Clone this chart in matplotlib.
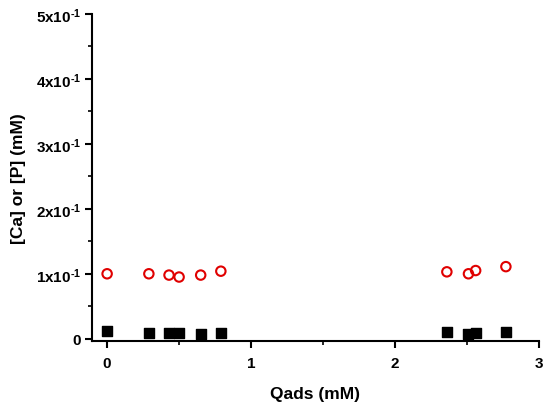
import matplotlib
matplotlib.use('Agg')
import matplotlib.pyplot as plt
from matplotlib.ticker import MultipleLocator, FixedLocator

plt.rcParams['font.family'] = ['Liberation Sans', 'DejaVu Sans']
plt.rcParams['font.weight'] = 'bold'
plt.rcParams['mathtext.fontset'] = 'custom'
plt.rcParams['mathtext.rm'] = 'Liberation Sans:bold'
plt.rcParams['mathtext.default'] = 'rm'
plt.rcParams['axes.unicode_minus'] = False

# Qads (mM) and measured concentrations (mM)
qads = [0.0, 0.29, 0.43, 0.50, 0.65, 0.79, 2.36, 2.51, 2.56, 2.77]
ca_open = [0.100, 0.100, 0.098, 0.095, 0.098, 0.104, 0.103, 0.100, 0.105, 0.111]
p_filled = [0.0113, 0.0088, 0.0088, 0.0090, 0.0077, 0.0088, 0.0097, 0.0073, 0.0088, 0.0103]

yticks = [0.0, 0.1, 0.2, 0.3, 0.4, 0.5]
ytick_labels = ['0'] + [r'%dx10$^{\text{-}1}$' % k for k in range(1, 6)]
xticks = [0, 1, 2, 3]


def main():
    fig = plt.figure(figsize=(5.5, 4.06), dpi=100)
    ax = fig.add_axes([92 / 550, (406 - 342) / 406, (539 - 92) / 550, (342 - 15) / 406])

    ax.scatter(qads, p_filled, marker='s', s=50, color='black', zorder=3)
    ax.scatter(qads, ca_open, marker='o', s=46, facecolor='none',
               edgecolor='#e00000', linewidths=1.5, zorder=3)

    ax.set_xlim(-0.105, 3.0)
    ax.set_ylim(-0.0035, 0.5)

    ax.xaxis.set_major_locator(FixedLocator(xticks))
    ax.xaxis.set_minor_locator(MultipleLocator(0.5))
    ax.set_yticks(yticks)
    ax.set_yticklabels(ytick_labels)
    ax.yaxis.set_minor_locator(MultipleLocator(0.05))

    for side in ('top', 'right'):
        ax.spines[side].set_visible(False)
    for side in ('left', 'bottom'):
        ax.spines[side].set_linewidth(1.5)

    ax.tick_params(which='major', direction='out', length=5, width=1.5, labelsize=11, pad=3)
    ax.tick_params(which='minor', direction='out', length=3, width=1.2)
    ax.tick_params(axis='x', pad=6)

    ax.set_xlabel('Qads (mM)', fontsize=12.5, fontweight='bold', labelpad=11)
    ax.set_ylabel('[Ca] or [P] (mM)', fontsize=12.5, fontweight='bold', labelpad=7)

    fig.savefig('out.png', dpi=100)


if __name__ == '__main__':
    main()
